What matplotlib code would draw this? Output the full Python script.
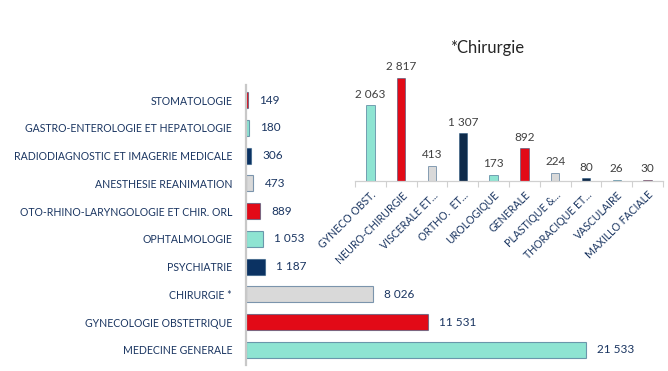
"""Hospital stays by specialty, with the surgery breakdown as an inset column chart."""

import matplotlib

matplotlib.use("Agg")
import matplotlib.pyplot as plt
from matplotlib.colors import to_rgba

# Main horizontal bars, top to bottom as drawn.
SPECIALTIES = [
    "STOMATOLOGIE",
    "GASTRO-ENTEROLOGIE ET HEPATOLOGIE",
    "RADIODIAGNOSTIC ET IMAGERIE MEDICALE",
    "ANESTHESIE REANIMATION",
    "OTO-RHINO-LARYNGOLOGIE ET CHIR. ORL",
    "OPHTALMOLOGIE",
    "PSYCHIATRIE",
    "CHIRURGIE *",
    "GYNECOLOGIE OBSTETRIQUE",
    "MEDECINE GENERALE",
]
SPECIALTY_COUNTS = [149, 180, 306, 473, 889, 1053, 1187, 8026, 11531, 21533]

# Inset: breakdown of CHIRURGIE.
SURGERY = [
    "GYNECO OBST.",
    "NEURO-CHIRURGIE",
    "VISCERALE ET...",
    "ORTHO.  ET...",
    "UROLOGIQUE",
    "GENERALE",
    "PLASTIQUE &...",
    "THORACIQUE ET...",
    "VASCULAIRE",
    "MAXILLO FACIALE",
]
SURGERY_COUNTS = [2063, 2817, 413, 1307, 173, 892, 224, 80, 26, 30]

TEAL, RED, GRAY, NAVY = "#8EE4D2", "#E20A17", "#D9D9D9", "#0E2A4A"
MAIN_CYCLE = [TEAL, RED, GRAY, "#0B3262"]  # from the bottom bar upwards
INSET_CYCLE = [TEAL, RED, GRAY, NAVY]
TEXT = "#1A3561"
FONT = ["Lato", "DejaVu Sans"]


def spaced(n: int) -> str:
    return f"{n:,}".replace(",", " ")


plt.rcParams["font.family"] = FONT

fig = plt.figure(figsize=(6.68, 3.71), dpi=100)

# --- main chart -----------------------------------------------------------
axis = fig.add_axes([246 / 668, 6 / 371, 379 / 668, 280 / 371])
n = len(SPECIALTIES)
rows = list(range(n))[::-1]  # first entry at the top
colors = [MAIN_CYCLE[(n - 1 - i) % 4] for i in range(n)]
axis.barh(
    rows, SPECIALTY_COUNTS, height=0.58, color=colors,
    edgecolor=to_rgba("#1F4E79", 0.55), linewidth=0.8, zorder=2,
)
for y, v in zip(rows, SPECIALTY_COUNTS):
    axis.annotate(
        spaced(v), (v, y), xytext=(8, 0), textcoords="offset points",
        va="center", ha="left", fontsize=8.5, color=TEXT,
    )
axis.set_yticks(rows)
axis.set_yticklabels(SPECIALTIES, fontsize=7.6, color=TEXT)
axis.tick_params(axis="y", length=0, pad=10)
axis.set_xticks([])
axis.set_xlim(0, 24000)
axis.set_ylim(-0.55, n - 0.45)
for side in ("top", "right", "bottom"):
    axis.spines[side].set_visible(False)
axis.spines["left"].set_color("#C8C8C8")
axis.spines["left"].set_linewidth(1.6)
axis.patch.set_alpha(0)

# --- inset: surgery breakdown --------------------------------------------
inset = fig.add_axes([355 / 668, 190 / 371, 308 / 668, 121 / 371])
xs = list(range(len(SURGERY)))
inset.bar(
    xs, SURGERY_COUNTS, width=0.27,
    color=[INSET_CYCLE[i % 4] for i in xs],
    edgecolor=to_rgba("#1F4E79", 0.5), linewidth=0.7, zorder=2,
)
for x, v in zip(xs, SURGERY_COUNTS):
    inset.annotate(
        spaced(v), (x, v), xytext=(0, 4), textcoords="offset points",
        ha="center", va="bottom", fontsize=8.5, color="#404040",
    )
inset.set_xlim(-0.5, len(SURGERY) - 0.5)
inset.set_ylim(0, 3300)
inset.set_yticks([])
inset.set_xticks(xs)
inset.set_xticklabels(
    SURGERY, rotation=45, ha="right", va="top", rotation_mode="anchor",
    fontsize=7.6, color=TEXT,
)
inset.set_xticks([x - 0.5 for x in xs] + [len(SURGERY) - 0.5], minor=True)
inset.tick_params(axis="x", which="major", length=0, pad=6)
inset.tick_params(axis="x", which="minor", length=4, color="#D0D0D0", width=0.8)
for side in ("top", "right", "left"):
    inset.spines[side].set_visible(False)
inset.spines["bottom"].set_color("#D0D0D0")
inset.spines["bottom"].set_linewidth(0.9)
inset.patch.set_alpha(0)

fig.text(487 / 668, 1 - 48 / 371, "*Chirurgie", ha="center", va="center",
         fontsize=12, color="#262626", family=FONT)

fig.savefig("out.png", dpi=100)
